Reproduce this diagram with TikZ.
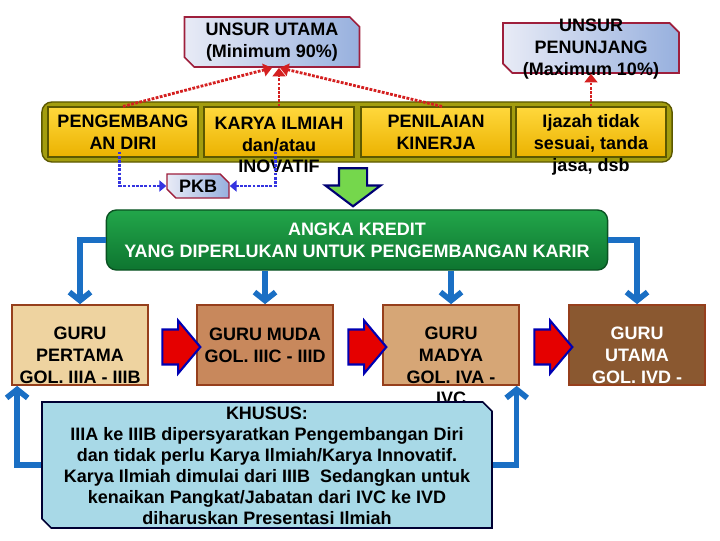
\documentclass[tikz,border=0pt]{standalone}
\usepackage{fontspec}
\setmainfont{Liberation Sans}
\usetikzlibrary{shapes.misc,shapes.arrows,arrows.meta}

\definecolor{unsurleft}{HTML}{E8EBF6}
\definecolor{unsurright}{HTML}{97B0DE}
\definecolor{unsurline}{HTML}{9E1F3C}
\definecolor{olivebar}{HTML}{A39D0E}
\definecolor{oliveline}{HTML}{5C5800}
\definecolor{celltop}{HTML}{FFD83C}
\definecolor{cellbot}{HTML}{EBB200}
\definecolor{greentop}{HTML}{22A64A}
\definecolor{greenbot}{HTML}{0E7530}
\definecolor{reddot}{HTML}{D42020}
\definecolor{bluedot}{HTML}{3434E0}
\definecolor{arrowblue}{HTML}{1A6FC4}
\definecolor{pertamafill}{HTML}{EED3A0}
\definecolor{mudafill}{HTML}{C8885C}
\definecolor{madyafill}{HTML}{D6A676}
\definecolor{utamafill}{HTML}{8A5830}
\definecolor{woodline}{HTML}{963F1C}
\definecolor{khususfill}{HTML}{A8D9E7}

\tikzset{
  txt/.style={font=\fontsize{12.8}{15.5}\selectfont\bfseries, align=center, inner sep=0pt},
  unsur/.style={chamfered rectangle, chamfered rectangle corners={north east,south west},
    chamfered rectangle xsep=0.12cm, draw=unsurline, line width=1.2pt,
    left color=unsurleft, right color=unsurright},
  cell/.style={rectangle, draw=oliveline, line width=0.8pt, top color=celltop, bottom color=cellbot,
    minimum width=3.75cm, minimum height=1.25cm, inner sep=1pt},
  guru/.style={rectangle, draw=woodline, line width=1.2pt, minimum width=3.4cm, minimum height=2cm},
  redblock/.style={single arrow, single arrow tip angle=100, single arrow head extend=0.225cm,
    inner xsep=0.05cm, inner ysep=0.41cm, minimum height=0.95cm, fill=red!90!black,
    draw=blue!70!black, line width=1.5pt},
  bluearrow/.style={draw=arrowblue, line width=4pt, -{Straight Barb[length=6pt,width=15pt]}},
  reddots/.style={draw=reddot, line width=2pt, dash pattern=on 2pt off 1pt, -{Triangle[length=6pt,width=9pt]}},
  bluedots/.style={draw=bluedot, line width=2pt, dash pattern=on 2pt off 1pt, -{Triangle[length=5pt,width=8pt]}}
}

\begin{document}
\begin{tikzpicture}[x=0.025cm, y=-0.025cm]
\useasboundingbox (0,0) rectangle (720,540);

% unsur
\node at (272,42) [unsur, txt, minimum width=4.375cm, minimum height=1.25cm] (utama) {UNSUR UTAMA\\(Minimum 90\%)};
\node at (591,48) [unsur, minimum width=4.4cm, minimum height=1.25cm] (penunjang) {};
\node at (591,49) [txt] (tpenunjang) {UNSUR\\PENUNJANG\\(Maximum 10\%)};

% bar with four cells
\node at (357,132) [rectangle, rounded corners=0.25cm, fill=olivebar, draw=oliveline, line width=1pt,
  minimum width=15.75cm, minimum height=1.5cm] (bar) {};
\node at (123,132) [cell, txt] (c1) {PENGEMBANG\\AN DIRI};
\node at (279,132) [cell] (c2) {};
\node at (279,145) [txt] (t2) {KARYA ILMIAH\\dan/atau\\INOVATIF};
\node at (436,132) [cell, txt] (c3) {PENILAIAN\\KINERJA};
\node at (591,132) [cell] (c4) {};
\node at (591,145) [txt] (t4) {Ijazah tidak\\sesuai, tanda\\jasa, dsb};

\node at (198,186) [unsur, txt, minimum width=1.55cm, minimum height=0.6cm, line width=1pt,
  chamfered rectangle xsep=0.1cm] (pkb) {PKB};

\draw[reddots] (c1.north) -- (utama.south);
\draw[reddots] (c2.north) -- (c2.north |- utama.south);
\draw[reddots] ([xshift=0.15cm]c3.north) -- ([xshift=0.2cm]utama.south);
\draw[reddots] (c4.north) -- (c4.north |- penunjang.south);

\draw[bluedots] ([xshift=-0.08cm,yshift=0.15cm]c1.south) |- (pkb.west);
\draw[bluedots] ([xshift=-0.08cm,yshift=0.15cm]c2.south) |- (pkb.east);

\node at (353,182) [single arrow, shape border rotate=270, single arrow tip angle=106,
  single arrow head extend=0.34cm, inner xsep=0.325cm, inner ysep=0.05cm, minimum height=0.95cm,
  minimum width=0.95cm, fill=green!55!olive!70!white, draw=blue!45!black, line width=1.5pt] (down) {};

% angka kredit
\node at (357,240) [rectangle, rounded corners=0.25cm, top color=greentop, bottom color=greenbot,
  draw=greenbot!70!black, line width=1pt, minimum width=12.525cm, minimum height=1.5cm,
  txt, text=white] (angka) {ANGKA KREDIT\\YANG DIPERLUKAN UNTUK PENGEMBANGAN KARIR};

% guru
\node at (80,345) [guru, fill=pertamafill] (pertama) {};
\node at (80,355) [txt] (tpertama) {GURU\\PERTAMA\\GOL. IIIA - IIIB};
\node at (265,345) [guru, fill=mudafill] (muda) {};
\node at (265,345) [txt] (tmuda) {GURU MUDA\\GOL. IIIC - IIID};
\node at (451,345) [guru, fill=madyafill] (madya) {};
\node at (451,366) [txt] (tmadya) {GURU\\MADYA\\GOL. IVA -\\IVC};
\node at (637,345) [guru, fill=utamafill] (gutama) {};
\node at (637,355) [txt, text=white] (tgutama) {GURU\\UTAMA\\GOL. IVD -};

\node at (174,347) [redblock] (r1) {};
\node at (360,347) [redblock] (r2) {};
\node at (546,347) [redblock] (r3) {};

\draw[bluearrow] (angka.west) -| (pertama.north);
\draw[bluearrow] (angka.south -| muda.north) -- (muda.north);
\draw[bluearrow] (angka.south -| madya.north) -- (madya.north);
\draw[bluearrow] (angka.east) -| (gutama.north);

% khusus
\node at (267,465) [chamfered rectangle, chamfered rectangle corners={north east,south west},
  chamfered rectangle xsep=0.5cm, fill=khususfill, draw=black!80!blue, line width=1.2pt,
  minimum width=11.25cm, minimum height=3.15cm] (khusus) {};
\node at (267,466) [txt, font=\fontsize{12.8}{14.9}\selectfont\bfseries] (tkhusus)
  {KHUSUS:\\IIIA ke IIIB dipersyaratkan Pengembangan Diri\\dan tidak perlu Karya Ilmiah/Karya Innovatif.\\Karya Ilmiah dimulai dari IIIB~ Sedangkan untuk\\kenaikan Pangkat/Jabatan dari IVC ke IVD\\diharuskan Presentasi Ilmiah};

\draw[bluearrow] (khusus.west) -| ([xshift=0.15cm]pertama.south west);
\draw[bluearrow] (khusus.east) -| ([xshift=-0.08cm]madya.south east);
\end{tikzpicture}
\end{document}
